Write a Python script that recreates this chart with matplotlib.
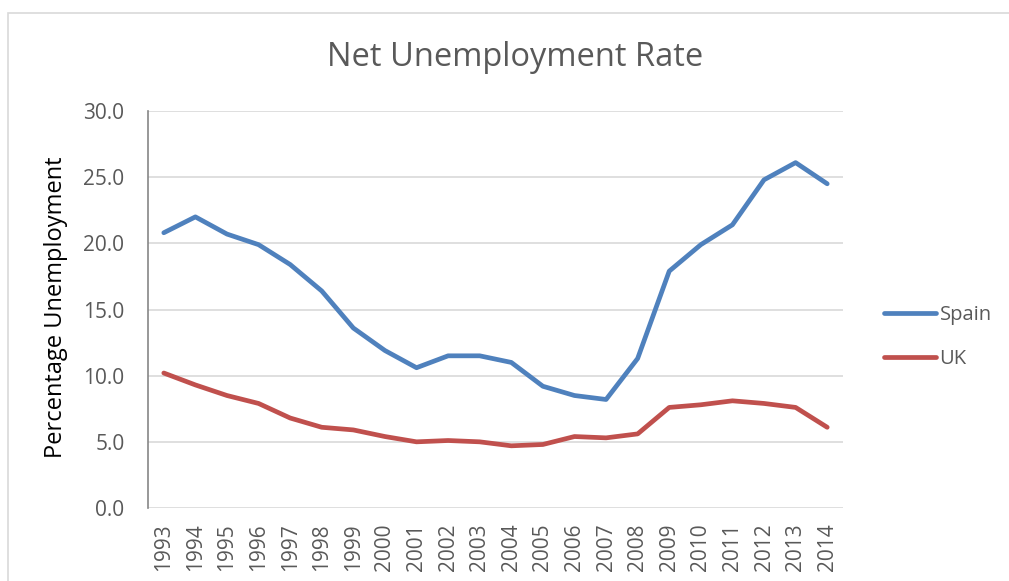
import matplotlib
matplotlib.use("Agg")
import matplotlib.pyplot as plt
from matplotlib.patches import Rectangle
from matplotlib.lines import Line2D

years = [str(y) for y in range(1993, 2015)]
spain = [20.8, 22.0, 20.7, 19.9, 18.4, 16.4, 13.6, 11.9, 10.6, 11.5, 11.5,
         11.0, 9.2, 8.5, 8.2, 11.3, 17.9, 19.9, 21.4, 24.8, 26.1, 24.5]
uk = [10.2, 9.3, 8.5, 7.9, 6.8, 6.1, 5.9, 5.4, 5.0, 5.1, 5.0,
      4.7, 4.8, 5.4, 5.3, 5.6, 7.6, 7.8, 8.1, 7.9, 7.6, 6.1]
yticks = [0, 5, 10, 15, 20, 25, 30]

plt.rcParams['font.family'] = ['Open Sans', 'DejaVu Sans']
txt = '#595959'

W, H = 1009, 581
fig = plt.figure(figsize=(W / 100, H / 100), dpi=100)
fig.patches.append(Rectangle((8 / W, -0.1), 1.2, 1 - 13 / H + 0.1,
                             transform=fig.transFigure, fill=False,
                             edgecolor='#d9d9d9', linewidth=1.2))

ax = fig.add_axes([148 / W, (H - 508) / H, (843 - 148) / W, (508 - 111) / H])
x = list(range(len(years)))
lw = 3.4
ax.plot(x, spain, color='#4F81BD', linewidth=lw, solid_capstyle='round',
        solid_joinstyle='round', label='Spain')
ax.plot(x, uk, color='#C0504D', linewidth=lw, solid_capstyle='round',
        solid_joinstyle='round', label='UK')

ax.set_xlim(-0.5, len(years) - 0.5)
ax.set_ylim(0, 30)
ax.set_yticks(yticks)
ax.set_yticklabels([f"{v:.1f}" for v in yticks])
ax.set_xticks(x)
ax.set_xticklabels(years, rotation=90)
ax.tick_params(axis='both', length=0, colors=txt, labelsize=15)
ax.tick_params(axis='y', pad=17)
ax.tick_params(axis='x', pad=11)
ax.grid(axis='y', color='#d9d9d9', linewidth=1.2)
ax.set_axisbelow(True)
for s in ['top', 'right', 'bottom']:
    ax.spines[s].set_visible(False)
ax.spines['left'].set_color('#868686')
ax.spines['left'].set_linewidth(1.2)

ax.set_ylabel('Percentage Unemployment', fontsize=17, color='black')
ax.yaxis.set_label_coords((68 - 148) / (843 - 148), 0.505)
fig.text(515 / W, 1 - 58 / H, 'Net Unemployment Rate', ha='center', va='center',
         fontsize=23.5, color=txt)

handles = [Line2D([], [], color='#4F81BD', linewidth=lw, solid_capstyle='round'),
           Line2D([], [], color='#C0504D', linewidth=lw, solid_capstyle='round')]
leg = fig.legend(handles, ['Spain', 'UK'], loc='center left',
                 bbox_to_anchor=(866 / W, 1 - 337 / H), frameon=False,
                 fontsize=14.5, handlelength=2.6, handletextpad=0.15,
                 labelspacing=1.22, labelcolor=txt)

fig.savefig('out.png', dpi=100)
